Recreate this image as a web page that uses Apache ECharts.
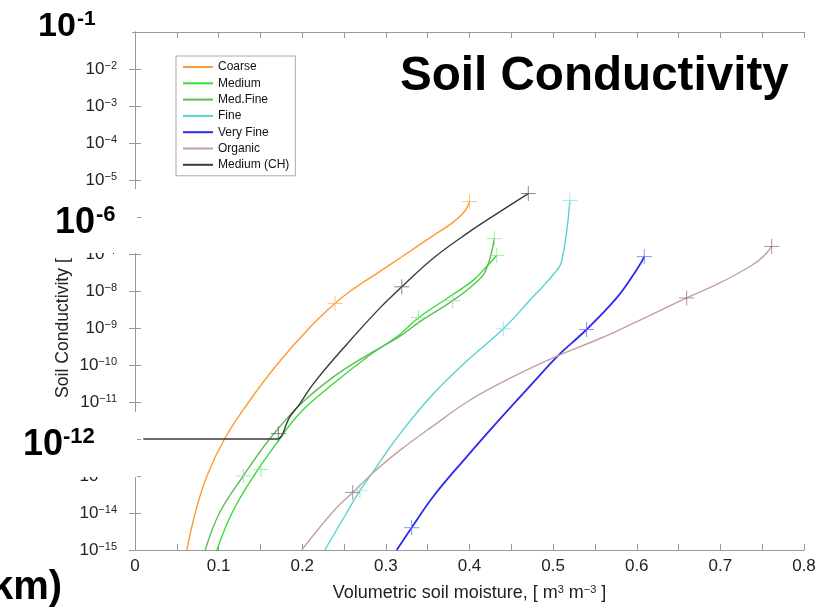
<!DOCTYPE html>
<html>
<head>
<meta charset="utf-8">
<script src="https://cdn.jsdelivr.net/npm/echarts@6/dist/echarts.min.js"></script>
<style>
  html, body { margin: 0; padding: 0; background: #fff; }
  #chart { width: 832px; height: 607px; }
</style>
</head>
<body>
<div id="chart"></div>
<script>
// Hydraulic conductivity curves, [volumetric soil moisture, conductivity]
const coarse = [
  [0.062, 1e-15], [0.072, 1e-14], [0.086, 1e-13], [0.107, 1e-12], [0.136, 1e-11],
  [0.1694, 1e-10], [0.2084, 1e-9], [0.239, 4.6e-9], [0.2577, 1e-8], [0.293, 3.4e-8],
  [0.317, 7.8e-8], [0.357, 3.2e-7], [0.381, 7.4e-7], [0.395, 1.5e-6], [0.400, 2.6e-6]
];
const medium = [
  [0.098, 1e-15], [0.116, 1e-14], [0.142, 1e-13], [0.173, 1e-12], [0.197, 5.0e-12],
  [0.237, 3.1e-11], [0.277, 1.6e-10], [0.317, 6.8e-10], [0.339, 1.9e-9], [0.377, 7.2e-9],
  [0.405, 2.0e-8], [0.4205, 4.6e-8], [0.4325, 9.1e-8]
];
const medFine = [
  [0.084, 1e-15], [0.101, 1e-14], [0.1295, 1e-13], [0.161, 1e-12], [0.197, 8.3e-12],
  [0.237, 4.7e-11], [0.277, 1.8e-10], [0.317, 6.0e-10], [0.339, 1.4e-9], [0.380, 5.5e-9],
  [0.405, 1.5e-8], [0.419, 3.4e-8], [0.4297, 2.6e-7]
];
const fine = [
  [0.227, 1e-15], [0.253, 1e-14], [0.269, 4.0e-14], [0.289, 1.8e-13], [0.317, 1.4e-12],
  [0.357, 1.7e-11], [0.397, 1.3e-10], [0.4404, 9.5e-10], [0.4763, 7.1e-9], [0.488, 1.35e-8],
  [0.500, 2.75e-8], [0.510, 6.0e-8], [0.520, 2.8e-6]
];
const veryFine = [
  [0.313, 1e-15], [0.3308, 4.0e-15], [0.3567, 2.8e-14], [0.3966, 3.3e-13], [0.4365, 3.5e-12],
  [0.4763, 3.4e-11], [0.506, 1.8e-10], [0.540, 9.1e-10], [0.576, 6.5e-9], [0.596, 2.75e-8],
  [0.606, 6.3e-8], [0.609, 8.5e-8]
];
const organic = [
  [0.1993, 1e-15], [0.237, 1.1e-14], [0.2603, 3.6e-14], [0.289, 1.5e-13], [0.317, 5.0e-13],
  [0.357, 2.3e-12], [0.397, 1.0e-11], [0.4365, 3.2e-11], [0.4763, 8.9e-11], [0.506, 1.8e-10],
  [0.556, 5.2e-10], [0.596, 1.35e-9], [0.6597, 6.5e-9], [0.6956, 1.5e-8], [0.7354, 4.6e-8],
  [0.7513, 8.5e-8], [0.7613, 1.6e-7]
];
const mediumCH = [
  [0.010, 1e-12], [0.160, 1e-12], [0.170, 1e-12], [0.1853, 4.0e-12], [0.197, 8.9e-12],
  [0.2132, 3.1e-11], [0.2531, 3.6e-10], [0.293, 3.5e-9], [0.319, 1.3e-8], [0.357, 7.8e-8],
  [0.397, 3.6e-7], [0.4365, 1.4e-6], [0.4703, 4.3e-6]
];

// "+" markers placed on each curve
const coarseMarks   = [[0.239, 4.6e-9], [0.400, 2.6e-6]];
const mediumMarks   = [[0.1507, 1.5e-13], [0.339, 1.9e-9], [0.4325, 9.1e-8]];
const medFineMarks  = [[0.1295, 1e-13], [0.380, 5.5e-9], [0.4297, 2.6e-7]];
const fineMarks     = [[0.269, 4.0e-14], [0.4404, 9.5e-10], [0.520, 2.8e-6]];
const veryFineMarks = [[0.3308, 4.0e-15], [0.540, 9.1e-10], [0.609, 8.5e-8]];
const organicMarks  = [[0.2603, 3.6e-14], [0.6597, 6.5e-9], [0.7613, 1.6e-7]];
const mediumCHMarks = [[0.1714, 1.4e-12], [0.319, 1.3e-8], [0.4703, 4.3e-6]];

const FONT = "'Liberation Sans', Arial, Helvetica, sans-serif";
const PLUS = 'path://M0,5L10,5M5,0L5,10';

const soils = [
  { name: 'Coarse',      line: coarse,   marks: coarseMarks,   color: '#ff9933', mark: '#ffb366', width: 1.4 },
  { name: 'Medium',      line: medium,   marks: mediumMarks,   color: '#33e033', mark: '#88ee88', width: 1.4 },
  { name: 'Med.Fine',    line: medFine,  marks: medFineMarks,  color: '#62b85a', mark: '#99dd99', width: 1.4 },
  { name: 'Fine',        line: fine,     marks: fineMarks,     color: '#55d3d3', mark: '#8fe3e3', width: 1.4 },
  { name: 'Very Fine',   line: veryFine, marks: veryFineMarks, color: '#2b2bf0', mark: '#7070ff', width: 1.8 },
  { name: 'Organic',     line: organic,  marks: organicMarks,  color: '#c4a0a0', mark: '#a07088', width: 1.4 },
  { name: 'Medium (CH)', line: mediumCH, marks: mediumCHMarks, color: '#3a3a3a', mark: '#666666', width: 1.4 }
];

const series = [];
soils.forEach(s => {
  series.push({
    name: s.name, type: 'line', data: s.line,
    showSymbol: false, symbol: 'none',
    smooth: 0.4,
    itemStyle: { color: s.color },
    lineStyle: { color: s.color, width: s.width },
    emphasis: { disabled: true }, z: 3
  });
  series.push({
    name: s.name + ' marks', type: 'scatter', data: s.marks,
    symbol: PLUS, symbolSize: 15,
    itemStyle: { color: 'rgba(0,0,0,0)', borderColor: s.mark, borderWidth: 1 },
    emphasis: { disabled: true }, silent: true, z: 4
  });
});

const axisGray = '#999';
const tickLabelStyle = { fontFamily: FONT, fontSize: 17, color: '#222' };

function xLabel(v) {
  const k = Math.round(v * 20);
  if (k % 2) return '';
  return k === 0 ? '0' : (k / 20).toFixed(1);
}
function yLabel(v) {
  const e = Math.round(Math.log10(v));
  return '{b|10}{s|\u2212' + Math.abs(e) + '}';
}

const chart = echarts.init(document.getElementById('chart'), null, { renderer: 'canvas' });
chart.setOption({
  animation: false,
  backgroundColor: '#fff',
  grid: { left: 135, right: 28, top: 32, bottom: 53, containLabel: false },
  legend: {
    data: soils.map(s => s.name),
    orient: 'vertical', left: 176, top: 56,
    padding: [5, 6, 5, 7], itemGap: 4.3,
    itemWidth: 30, itemHeight: 2, icon: 'rect',
    borderColor: '#aaa', borderWidth: 1, backgroundColor: '#fff',
    textStyle: { fontFamily: FONT, fontSize: 12, color: '#111' },
    selectedMode: false
  },
  xAxis: [
    {
      type: 'value', min: 0, max: 0.8, interval: 0.05, position: 'bottom',
      axisLine: { lineStyle: { color: axisGray } },
      axisTick: { inside: true, length: 6, lineStyle: { color: axisGray } },
      splitLine: { show: false },
      axisLabel: Object.assign({ margin: 8, interval: 0, formatter: xLabel }, tickLabelStyle),
      name: 'Volumetric soil moisture, [ m{s|3} m{s|\u22123} ]',
      nameLocation: 'middle', nameGap: 34,
      nameTextStyle: {
        fontFamily: FONT, fontSize: 18, color: '#222',
        rich: { s: { fontFamily: FONT, fontSize: 11, verticalAlign: 'top', color: '#222' } }
      }
    },
    {
      type: 'value', min: 0, max: 0.8, interval: 0.05, position: 'top',
      axisLine: { lineStyle: { color: axisGray } },
      axisTick: { inside: true, length: 6, lineStyle: { color: axisGray } },
      axisLabel: { show: false }, splitLine: { show: false }
    }
  ],
  yAxis: [
    {
      type: 'log', logBase: 10, min: 1e-15, max: 1e-1, interval: 1, position: 'left',
      axisLine: { lineStyle: { color: axisGray } },
      axisTick: { inside: true, length: 6, lineStyle: { color: axisGray } },
      splitLine: { show: false },
      axisLabel: {
        margin: 18, formatter: yLabel, color: '#222',
        rich: {
          b: { fontFamily: FONT, fontSize: 17, color: '#222', verticalAlign: 'bottom' },
          s: { fontFamily: FONT, fontSize: 11, color: '#222', verticalAlign: 'top' }
        }
      }
    },
    {
      type: 'log', logBase: 10, min: 1e-15, max: 1e-1, interval: 1, position: 'right',
      axisLine: { lineStyle: { color: axisGray } },
      axisTick: { inside: true, length: 6, lineStyle: { color: axisGray } },
      axisLabel: { show: false }, splitLine: { show: false }
    }
  ],
  series: series,
  graphic: [
    // vertical axis title
    {
      type: 'text', x: 63, y: 398, rotation: Math.PI / 2, z: 90,
      style: { x: 0, y: 0, text: 'Soil Conductivity [ m s\u207B\u00B9 ]', font: '17.6px ' + FONT, fill: '#222', align: 'left', verticalAlign: 'middle' }
    },
    // slide annotations on white panels
    { type: 'rect', z: 100, shape: { x: 0, y: 0, width: 132, height: 50 }, style: { fill: '#fff' } },
    { type: 'rect', z: 100, shape: { x: 0, y: 189, width: 137, height: 64 }, style: { fill: '#fff' } },
    { type: 'rect', z: 100, shape: { x: 0, y: 412, width: 137, height: 65 }, style: { fill: '#fff' } },
    { type: 'text', z: 101, style: { x: 38, y: 27, text: '10', font: 'bold 34px ' + FONT, fill: '#000', align: 'left', verticalAlign: 'middle' } },
    { type: 'text', z: 101, style: { x: 77, y: 19, text: '-1', font: 'bold 21px ' + FONT, fill: '#000', align: 'left', verticalAlign: 'middle' } },
    { type: 'text', z: 101, style: { x: 55, y: 223, text: '10', font: 'bold 36px ' + FONT, fill: '#000', align: 'left', verticalAlign: 'middle' } },
    { type: 'text', z: 101, style: { x: 96, y: 215, text: '-6', font: 'bold 22px ' + FONT, fill: '#000', align: 'left', verticalAlign: 'middle' } },
    { type: 'text', z: 101, style: { x: 23, y: 445, text: '10', font: 'bold 36px ' + FONT, fill: '#000', align: 'left', verticalAlign: 'middle' } },
    { type: 'text', z: 101, style: { x: 63, y: 437, text: '-12', font: 'bold 22px ' + FONT, fill: '#000', align: 'left', verticalAlign: 'middle' } },
    { type: 'text', z: 101, style: { x: -9, y: 588, text: 'km)', font: 'bold 40px ' + FONT, fill: '#000', align: 'left', verticalAlign: 'middle' } },
    { type: 'text', z: 101, style: { x: 400, y: 77, text: 'Soil Conductivity', font: 'bold 47.6px ' + FONT, fill: '#000', align: 'left', verticalAlign: 'middle' } }
  ]
});
</script>
</body>
</html>
